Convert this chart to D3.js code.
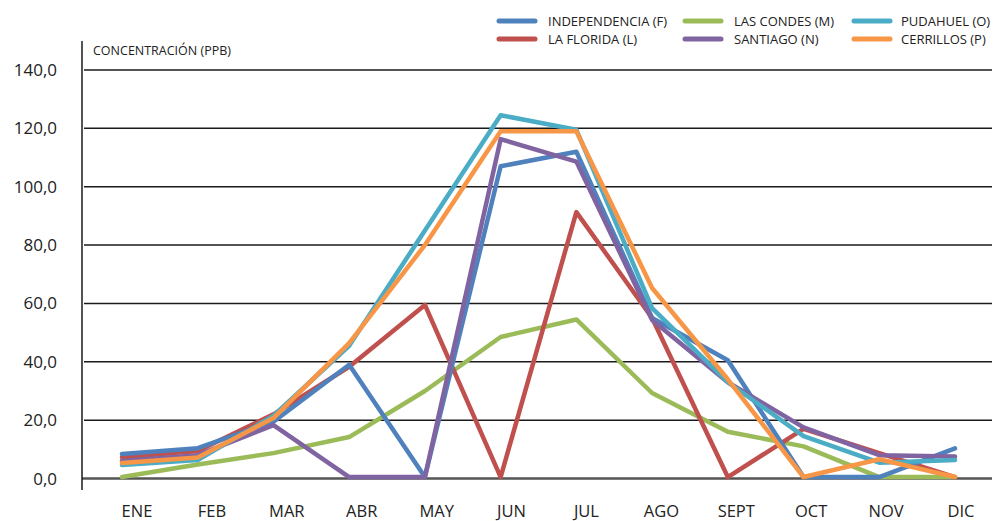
<!DOCTYPE html>
<html><head><meta charset="utf-8">
<script src="https://cdn.jsdelivr.net/npm/d3@7"></script>
<style>
html,body{margin:0;padding:0;background:#fff;}
svg{display:block;font-family:"Open Sans","DejaVu Sans",sans-serif;}
</style></head>
<body>
<svg id="chart" width="995" height="521"></svg>
<script>
const months = ["ENE","FEB","MAR","ABR","MAY","JUN","JUL","AGO","SEPT","OCT","NOV","DIC"];
const yTicks = [0,20,40,60,80,100,120,140];
const seriesNames = ["INDEPENDENCIA (F)","LA FLORIDA (L)","LAS CONDES (M)","SANTIAGO (N)","PUDAHUEL (O)","CERRILLOS (P)"];
const independencia = [8.4,10.4,19.5,39,0.5,107,112,55,40.5,0.5,0.5,10.3];
const laFlorida     = [7.3,9.4,22,38.3,59.5,0.5,91.3,55,0.5,17,8.7,0.5];
const lasCondes     = [0.5,4.8,8.7,14.2,30,48.5,54.5,29.3,16,11,0.5,0.5];
const santiago      = [6,8,18.3,0.5,0.5,116.3,108.6,54.3,33,17.5,8,7.5];
const pudahuel      = [4.6,6.3,21.5,45.5,85,124.5,119.5,58.4,33,14.5,5.4,6.3];
const cerrillos     = [5.3,7.2,20.7,46.4,80,119,119,65.3,34,0.5,6.6,0.5];
const seriesColors = ["#4F81BD","#C0504D","#9BBB59","#8064A2","#4BACC6","#F79646"];

const seriesValues = [independencia, laFlorida, lasCondes, santiago, pudahuel, cerrillos];
const drawOrder = [2,1,0,3,4,5];

const svg = d3.select("#chart");
const y = d3.scaleLinear().domain([0,140]).range([478.5,70]);
const x = d3.scalePoint().domain(months).range([122,955]);
const xLab = d3.scalePoint().domain(months).range([137,961]);

svg.append("g").selectAll("line").data(yTicks.filter(d=>d>0)).join("line")
  .attr("x1",84).attr("x2",992)
  .attr("y1",d=>y(d)).attr("y2",d=>y(d))
  .attr("stroke","#1a1a1a").attr("stroke-width",1.5);
svg.append("line").attr("x1",82).attr("x2",992).attr("y1",y(0)).attr("y2",y(0))
  .attr("stroke","#555").attr("stroke-width",2.5);
svg.append("line").attr("x1",82).attr("x2",82).attr("y1",41).attr("y2",490)
  .attr("stroke","#1a1a1a").attr("stroke-width",1.5);

svg.append("g").selectAll("text").data(yTicks).join("text")
  .attr("x",57).attr("y",d=>y(d)+6)
  .attr("text-anchor","end").attr("font-size",17).attr("fill","#222")
  .text(d=>d3.format(".1f")(d).replace(".",","));

svg.append("g").selectAll("text").data(months).join("text")
  .attr("x",d=>xLab(d)).attr("y",517)
  .attr("text-anchor","middle").attr("font-size",16.5).attr("fill","#222")
  .text(d=>d);

svg.append("text").attr("x",93).attr("y",55).attr("font-size",12.5).attr("fill","#222")
  .text("CONCENTRACIÓN (PPB)");

const line = d3.line().x((d,i)=>x(months[i])).y(d=>y(d));
svg.append("g").selectAll("path").data(drawOrder).join("path")
  .attr("d",i=>line(seriesValues[i]))
  .attr("fill","none").attr("stroke",i=>seriesColors[i])
  .attr("stroke-width",4.5).attr("stroke-linejoin","round").attr("stroke-linecap","round");

const legX = [497,683,852];
const legY = [21,39];
const legend = svg.append("g").selectAll("g").data(seriesNames).join("g")
  .attr("transform",(d,i)=>`translate(${legX[Math.floor(i/2)]},${legY[i%2]})`);
legend.append("line").attr("x1",2).attr("x2",38).attr("y1",0).attr("y2",0)
  .attr("stroke",(d,i)=>seriesColors[i]).attr("stroke-width",5).attr("stroke-linecap","round");
legend.append("text").attr("x",(d,i)=>Math.floor(i/2)===2?49:51).attr("y",5)
  .attr("font-size",13).attr("fill","#222").text(d=>d);
</script>
</body></html>
